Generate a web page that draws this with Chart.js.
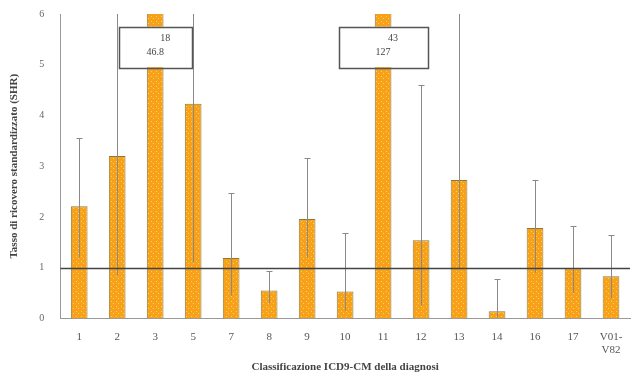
<!DOCTYPE html>
<html>
<head>
<meta charset="utf-8">
<script src="https://cdn.jsdelivr.net/npm/chart.js@4/dist/chart.umd.min.js"></script>
<style>
  html, body { margin: 0; padding: 0; background: #fff; }
  #wrap { width: 632px; height: 374px; }
</style>
</head>
<body>
<div id="wrap"><canvas id="myChart" width="632" height="374"></canvas></div>
<script>
const chapters = ['1', '2', '3', '5', '7', '8', '9', '10', '11', '12', '13', '14', '16', '17', ['V01-', 'V82']];
const ratios = [2.21, 3.2, 18, 4.23, 1.19, 0.55, 1.96, 0.53, 43, 1.54, 2.73, 0.14, 1.78, 0.99, 0.83];
const upperCI = [3.55, 7.5, 46.8, 7.5, 2.47, 0.93, 3.16, 1.68, 127, 4.6, 7.2, 0.77, 2.73, 1.82, 1.64];
const lowerCI = [1.2, 0.85, 6.2, 1.1, 0.45, 0.3, 1.2, 0.15, 14, 0.25, 1.0, 0.02, 0.9, 0.5, 0.4];
const yTicks = [0, 1, 2, 3, 4, 5, 6];
const yMax = 6;

// orange fill with small yellow dots, like the scanned original
function dotPattern() {
    const c = document.createElement('canvas');
    c.width = 5; c.height = 5;
    const g = c.getContext('2d');
    g.fillStyle = '#f7a01c';
    g.fillRect(0, 0, 5, 5);
    g.fillStyle = '#ffd64a';
    g.fillRect(1, 1, 1, 1);
    g.fillRect(3, 3, 1, 1);
    return g.createPattern(c, 'repeat');
}

const ctx = document.getElementById('myChart').getContext('2d');

const errorBars = {
    id: 'errorBars',
    afterDatasetsDraw(chart) {
        const {ctx, chartArea, scales: {x, y}} = chart;
        ctx.save();
        ctx.beginPath();
        ctx.rect(chartArea.left, chartArea.top, chartArea.width, chartArea.height);
        ctx.clip();
        ctx.strokeStyle = '#8a8a8a';
        ctx.lineWidth = 1;
        upperCI.forEach((u, i) => {
            const px = Math.round(x.getPixelForValue(i)) + 0.5;
            const top = y.getPixelForValue(u);
            const bot = y.getPixelForValue(lowerCI[i]);
            ctx.beginPath();
            ctx.moveTo(px, bot);
            ctx.lineTo(px, top);
            ctx.moveTo(px - 3, Math.round(top) + 0.5);
            ctx.lineTo(px + 3, Math.round(top) + 0.5);
            ctx.stroke();
        });
        // reference line at ratio 1
        const ry = Math.round(y.getPixelForValue(1)) + 0.5;
        ctx.strokeStyle = '#444';
        ctx.lineWidth = 1.5;
        ctx.beginPath();
        ctx.moveTo(chartArea.left, ry);
        ctx.lineTo(chartArea.right, ry);
        ctx.stroke();
        ctx.restore();

        // value boxes for the bars that go off the scale
        ctx.save();
        ctx.font = '10px "Liberation Serif"';
        ratios.forEach((v, i) => {
            if (v <= yMax) return;
            const cx = x.getPixelForValue(i);
            const w = i === 2 ? 73 : 89;
            const t = y.getPixelForValue(5.75);
            const b = y.getPixelForValue(4.95);
            ctx.fillStyle = '#fff';
            ctx.fillRect(cx - w / 2, t, w, b - t);
            ctx.strokeStyle = '#555';
            ctx.lineWidth = 1.5;
            ctx.strokeRect(Math.round(cx - w / 2) + 0.5, Math.round(t) + 0.5, w, Math.round(b - t));
            ctx.fillStyle = '#444';
            ctx.textAlign = 'center';
            ctx.fillText(String(v), cx + 10, t + 14);
            ctx.fillText(String(upperCI[i]), cx, t + 28);
        });
        ctx.restore();
    }
};

const myChart = new Chart(ctx, {
    type: 'bar',
    data: {
        labels: chapters,
        datasets: [{
            data: ratios,
            backgroundColor: dotPattern(),
            borderColor: '#8c7a3a',
            borderWidth: 1,
            barPercentage: 0.44,
            categoryPercentage: 1
        }]
    },
    options: {
        responsive: false,
        animation: false,
        layout: {padding: {top: 5, right: 2, left: 8, bottom: 0}},
        scales: {
            x: {
                grid: {display: false, drawTicks: true},
                border: {color: '#999'},
                ticks: {
                    color: '#555',
                    font: {family: 'Liberation Serif', size: 11},
                    maxRotation: 0,
                    padding: 4
                },
                title: {
                    display: true,
                    text: 'Classificazione ICD9-CM della diagnosi',
                    color: '#444',
                    font: {family: 'Liberation Serif', size: 11, weight: 'bold'},
                    padding: {top: 0, bottom: 0}
                }
            },
            y: {
                min: 0,
                max: yMax,
                afterBuildTicks: axis => { axis.ticks = yTicks.map(v => ({value: v})); },
                grid: {display: false},
                border: {color: '#999'},
                ticks: {
                    color: '#666',
                    font: {family: 'Liberation Serif', size: 10},
                    padding: 8
                },
                title: {
                    display: true,
                    text: 'Tasso di ricovero standardizzato (SHR)',
                    color: '#444',
                    font: {family: 'Liberation Serif', size: 11, weight: 'bold'},
                    padding: {top: 0, bottom: 10}
                }
            }
        },
        plugins: {
            legend: {display: false},
            tooltip: {enabled: false}
        }
    },
    plugins: [errorBars]
});
</script>
</body>
</html>
